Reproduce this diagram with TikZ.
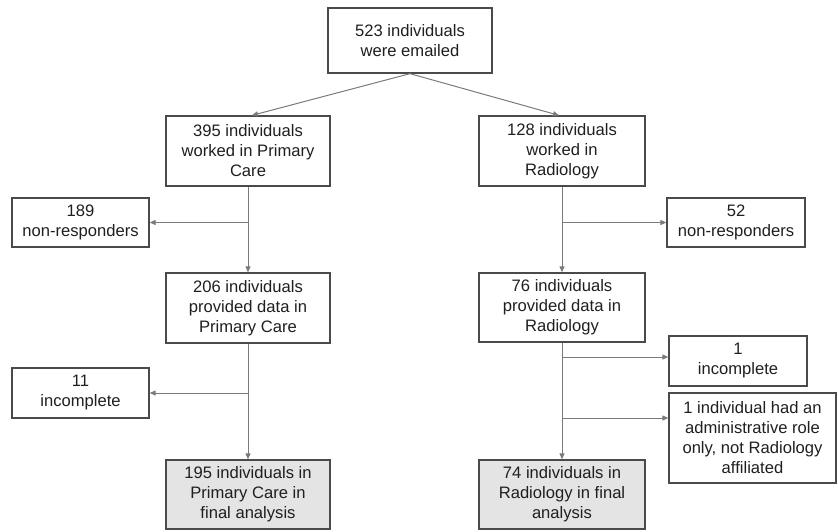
\documentclass[tikz,border=0pt]{standalone}
\usepackage{fontspec}
\setmainfont{Liberation Sans}
\usetikzlibrary{arrows.meta}
\definecolor{boxline}{HTML}{4A4A4A}
\definecolor{arrline}{HTML}{7A7A7A}
\definecolor{finalfill}{HTML}{E4E4E4}
\tikzset{
  flowbox/.style={draw=boxline, line width=1.3pt, align=center, inner sep=2pt,
    font=\fontsize{16.6}{20}\selectfont, text=black!88},
  finalbox/.style={flowbox, fill=finalfill},
  arr/.style={draw=arrline, line width=1pt, -{Triangle[length=6pt,width=5pt]}}
}
\begin{document}
\begin{tikzpicture}[x=1pt,y=-1pt]
\useasboundingbox (0,0) rectangle (838,531);
\node[flowbox, minimum width=164pt, minimum height=65pt] (top) at (410,40.5) {523 individuals\\were emailed};
\node[flowbox, minimum width=164pt, minimum height=70pt] (pc) at (248,151) {395 individuals\\worked in Primary\\Care};
\node[flowbox, minimum width=166pt, minimum height=70pt] (rad) at (562,151) {128 individuals\\worked in\\Radiology};
\node[flowbox, minimum width=137pt, minimum height=49pt] (nr1) at (80.5,222.5) {189\\non-responders};
\node[flowbox, minimum width=138pt, minimum height=49pt] (nr2) at (736,222.5) {52\\non-responders};
\node[flowbox, minimum width=164pt, minimum height=70pt] (pc2) at (248,308) {206 individuals\\provided data in\\Primary Care};
\node[flowbox, minimum width=166pt, minimum height=69pt] (rad2) at (562,307.5) {76 individuals\\provided data in\\Radiology};
\node[flowbox, minimum width=137pt, minimum height=50pt] (inc1) at (80.5,393) {11\\incomplete};
\node[flowbox, minimum width=138pt, minimum height=50pt] (inc2) at (738,361) {1\\incomplete};
\node[flowbox, minimum width=167pt, minimum height=90pt] (adm) at (752.5,438) {1 individual had an\\administrative role\\only, not Radiology\\affiliated};
\node[finalbox, minimum width=164pt, minimum height=69pt] (pcf) at (248,494.5) {195 individuals in\\Primary Care in\\final analysis};
\node[finalbox, minimum width=166pt, minimum height=69pt] (radf) at (562,494.5) {74 individuals in\\Radiology in final\\analysis};
% arrow targets on boxes
\coordinate (pcin) at ([xshift=4pt]pc.north);
\coordinate (radin) at ([xshift=-3pt]rad.north);
\coordinate (inc2in) at ([yshift=4pt]inc2.west);
\coordinate (admin) at ([yshift=20pt]adm.west);
% top split
\draw[arr] (top.south) -- (pcin);
\draw[arr] (top.south) -- (radin);
% primary care column
\draw[arr] (pc.south) -- (pc2.north);
\draw[arr] (pc.south |- nr1.east) -- (nr1.east);
\draw[arr] (pc2.south) -- (pcf.north);
\draw[arr] (pc2.south |- inc1.east) -- (inc1.east);
% radiology column
\draw[arr] (rad.south) -- (rad2.north);
\draw[arr] (rad.south |- nr2.west) -- (nr2.west);
\draw[arr] (rad2.south) -- (radf.north);
\draw[arr] (rad2.south |- inc2in) -- (inc2in);
\draw[arr] (rad2.south |- admin) -- (admin);
\end{tikzpicture}
\end{document}
